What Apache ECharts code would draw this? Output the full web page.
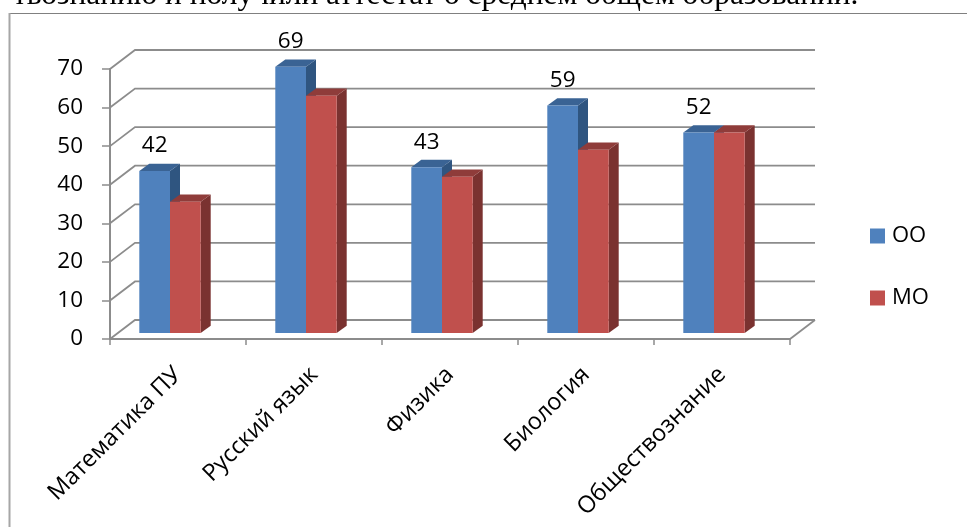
<!DOCTYPE html>
<html><head><meta charset="utf-8">
<style>html,body{margin:0;padding:0;background:#fff}#c{width:967px;height:527px}</style>
<script src="https://cdn.jsdelivr.net/npm/echarts@6/dist/echarts.min.js"></script>
</head><body><div id="c"></div>
<script>
const categories = ['Математика ПУ','Русский язык','Физика','Биология','Обществознание'];
const seriesOO = [42,69,43,59,52];
const seriesMO = [34,61.5,40.5,47.5,52];
const wallTicks = [0,10,20,30,40,50,60,70];
const headerText = 'твознанию и получили аттестат о среднем общем образовании.';

const FONT = '"Open Sans", sans-serif';
const DX = 25, DY = -19;            // wall depth
const barW = 30.7, bx = 10, by = -7.3, shiftX = -8, shiftY = -6;

function wall(params, api){
  const v = api.value(0);
  const p = api.coord([0, v]);
  const band = api.size([1,0])[0];
  const x0 = p[0]-band/2, y0 = p[1];
  const right = x0 + band*categories.length + DX;
  const st = {stroke:'#8c8c8c', lineWidth:1.8, fill:null};
  const kids = [{type:'polyline', shape:{points:[[x0,y0],[x0+DX,y0+DY],[right,y0+DY]]}, style:st}];
  if (v === 0) kids.push({type:'line', shape:{x1:right-DX,y1:y0,x2:right,y2:y0+DY}, style:st});
  return {type:'group', children:kids};
}
function bars(offsetIdx, front, top, side, withLabel){
  return function(params, api){
    const c = api.value(0), v = api.value(1);
    const t = api.coord([c, v]), b = api.coord([c, 0]);
    const x = t[0] + shiftX + (offsetIdx-1)*barW, yT = t[1]+shiftY, yB = b[1]+shiftY;
    const kids = [
      {type:'polygon', shape:{points:[[x+barW,yT],[x+barW+bx,yT+by],[x+barW+bx,yB+by],[x+barW,yB]]}, style:{fill:side}},
      {type:'polygon', shape:{points:[[x,yT],[x+bx,yT+by],[x+barW+bx,yT+by],[x+barW,yT]]}, style:{fill:top}},
      {type:'rect', shape:{x:x,y:yT,width:barW,height:yB-yT}, style:{fill:front}}
    ];
    if (withLabel) kids.push({type:'text', style:{text:String(v), x:x+barW/2, y:yT-25, align:'center', verticalAlign:'middle', font:'22.5px '+FONT, fill:'#000'}});
    return {type:'group', children:kids};
  };
}
const chart = echarts.init(document.getElementById('c'), null, {renderer:'canvas'});
chart.setOption({
  animation:false,
  backgroundColor:'#fff',
  grid:{left:110, top:69, width:680, height:270},
  graphic:[
    {type:'line', shape:{x1:9,y1:13.5,x2:967,y2:13.5}, style:{stroke:'#808080',lineWidth:1.2}, z:-1},
    {type:'line', shape:{x1:9.5,y1:13,x2:9.5,y2:527}, style:{stroke:'#a6a6a6',lineWidth:2}, z:-1},
    {type:'text', x:13, y:-20, style:{text:headerText, font:'31.4px "Liberation Serif", serif', fill:'#000'}, z:5}
  ],
  legend:{orient:'vertical', left:870, top:225, padding:0, itemWidth:15, itemHeight:15, itemGap:40, icon:'rect',
    data:['ОО','МО'], textStyle:{fontFamily:FONT, fontSize:22, color:'#000', padding:[0,0,0,2]}},
  xAxis:{type:'category', data:categories, boundaryGap:true,
    axisLine:{lineStyle:{color:'#8c8c8c',width:2}}, axisTick:{show:true,length:6,alignWithLabel:false,lineStyle:{color:'#8c8c8c',width:1.5}},
    axisLabel:{rotate:45, interval:0, margin:32, fontFamily:FONT, fontSize:23.5, color:'#000'}},
  yAxis:{type:'value', min:0, max:70, interval:10, splitLine:{show:false},
    axisLine:{show:true,lineStyle:{color:'#8c8c8c',width:2}}, axisTick:{show:true,length:8,lineStyle:{color:'#8c8c8c',width:1.5}},
    axisLabel:{margin:27, fontFamily:FONT, fontSize:22.5, color:'#000'}},
  series:[
    {type:'custom', name:'wall', coordinateSystem:'cartesian2d', data:wallTicks.map(v=>[v]), encode:{y:0}, renderItem:wall, silent:true, z:1},
    {type:'custom', name:'ОО', coordinateSystem:'cartesian2d', itemStyle:{color:'#4f81bd'}, data:seriesOO.map((v,i)=>[i,v]), encode:{x:0,y:1}, renderItem:bars(0,'#4f81bd','#3a6394','#2f5580',true), z:3},
    {type:'custom', name:'МО', coordinateSystem:'cartesian2d', itemStyle:{color:'#c0504d'}, data:seriesMO.map((v,i)=>[i,v]), encode:{x:0,y:1}, renderItem:bars(1,'#c0504d','#8f3c3a','#7a3230',false), z:4}
  ]
});
</script></body></html>
